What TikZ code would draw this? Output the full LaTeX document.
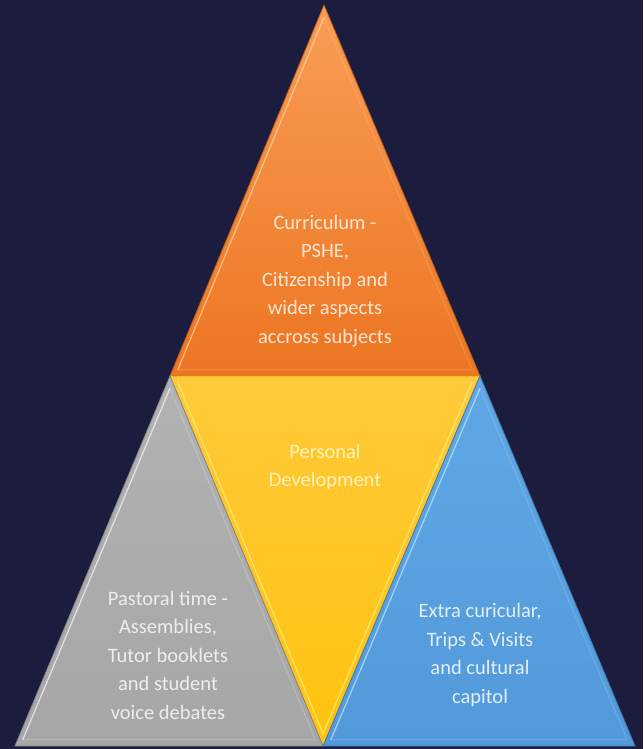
\documentclass[tikz,border=0pt]{standalone}
\usepackage{fontspec}
\setmainfont{Carlito}
\usetikzlibrary{calc}
\definecolor{bg}{HTML}{1C1C3E}
\definecolor{orT}{HTML}{F99D55}
\definecolor{orB}{HTML}{EC7522}
\definecolor{orL}{HTML}{FFD2A0}
\definecolor{yeT}{HTML}{FFC93A}
\definecolor{yeB}{HTML}{FFC30E}
\definecolor{yeL}{HTML}{FFF07A}
\definecolor{grT}{HTML}{B2B2B2}
\definecolor{grB}{HTML}{A6A6A6}
\definecolor{grL}{HTML}{F2F2F2}
\definecolor{blT}{HTML}{5FA8E4}
\definecolor{blB}{HTML}{5299DA}
\definecolor{blL}{HTML}{B8E2FF}
\definecolor{txO}{HTML}{FCE6D2}
\definecolor{txY}{HTML}{FFF3B8}
\definecolor{txG}{HTML}{EDEDED}
\definecolor{txB}{HTML}{E2EEF9}
\tikzset{
  label text/.style={align=center, font=\fontsize{20.5}{28.5}\selectfont, inner sep=0pt},
  bevel/.style={line width=1.3pt, opacity=0.75, line join=round},
  rim/.style={line width=0.8pt, line join=round}
}
\begin{document}
\begin{tikzpicture}[x=1pt,y=-1pt]
\fill[bg] (0,0) rectangle (643,749);
\useasboundingbox (0,0) rectangle (643,749);
% corners
\coordinate (apex) at (324,5);
\coordinate (ml) at (170,376);
\coordinate (mr) at (480,376);
\coordinate (bl) at (15,746);
\coordinate (bm) at (323,746);
\coordinate (br) at (635,746);
% orange top
\shade[top color=orT, bottom color=orB] (apex) -- (mr) -- (ml) -- cycle;
\draw[rim, orB!80!black] (apex) -- (mr) -- (ml) -- cycle;
\coordinate (gO) at ($1/3*(apex)+1/3*(mr)+1/3*(ml)$);
\draw[bevel, orL] ($(apex)!0.05!(gO)$) -- ($(ml)!0.05!(gO)$);
\draw[bevel, orL, opacity=0.2] ($(apex)!0.05!(gO)$) -- ($(mr)!0.05!(gO)$) -- ($(ml)!0.05!(gO)$);
% yellow middle
\shade[top color=yeT, bottom color=yeB] (ml) -- (mr) -- (bm) -- cycle;
\draw[rim, yeB!85!black] (ml) -- (mr) -- (bm) -- cycle;
\coordinate (gY) at ($1/3*(ml)+1/3*(mr)+1/3*(bm)$);
\draw[bevel, yeL] ($(ml)!0.05!(gY)$) -- ($(bm)!0.05!(gY)$) -- ($(mr)!0.05!(gY)$);
\draw[bevel, yeL, opacity=0.2] ($(ml)!0.05!(gY)$) -- ($(mr)!0.05!(gY)$);
% gray left
\shade[top color=grT, bottom color=grB] (ml) -- (bm) -- (bl) -- cycle;
\draw[rim, grB!80!black] (ml) -- (bm) -- (bl) -- cycle;
\coordinate (gG) at ($1/3*(ml)+1/3*(bm)+1/3*(bl)$);
\draw[bevel, grL] ($(ml)!0.05!(gG)$) -- ($(bl)!0.05!(gG)$);
\draw[bevel, grL, opacity=0.2] ($(ml)!0.05!(gG)$) -- ($(bm)!0.05!(gG)$) -- ($(bl)!0.05!(gG)$);
% blue right
\shade[top color=blT, bottom color=blB] (mr) -- (br) -- (bm) -- cycle;
\draw[rim, blB!80!black] (mr) -- (br) -- (bm) -- cycle;
\coordinate (gB) at ($1/3*(mr)+1/3*(br)+1/3*(bm)$);
\draw[bevel, blL] ($(mr)!0.05!(gB)$) -- ($(bm)!0.05!(gB)$);
\draw[bevel, blL, opacity=0.2] ($(mr)!0.05!(gB)$) -- ($(br)!0.05!(gB)$) -- ($(bm)!0.05!(gB)$);
% texts
\node[label text, text=txO] (tO) at (325,281) {Curriculum -\\PSHE,\\Citizenship and\\wider aspects\\accross subjects};
\node[label text, text=txY] (tY) at (325,467) {Personal\\Development};
\node[label text, text=txG] (tG) at (168,655) {Pastoral time -\\Assemblies,\\Tutor booklets\\and student\\voice debates};
\node[label text, text=txB] (tB) at (480,655) {Extra curicular,\\Trips \& Visits\\and cultural\\capitol};
\end{tikzpicture}
\end{document}
